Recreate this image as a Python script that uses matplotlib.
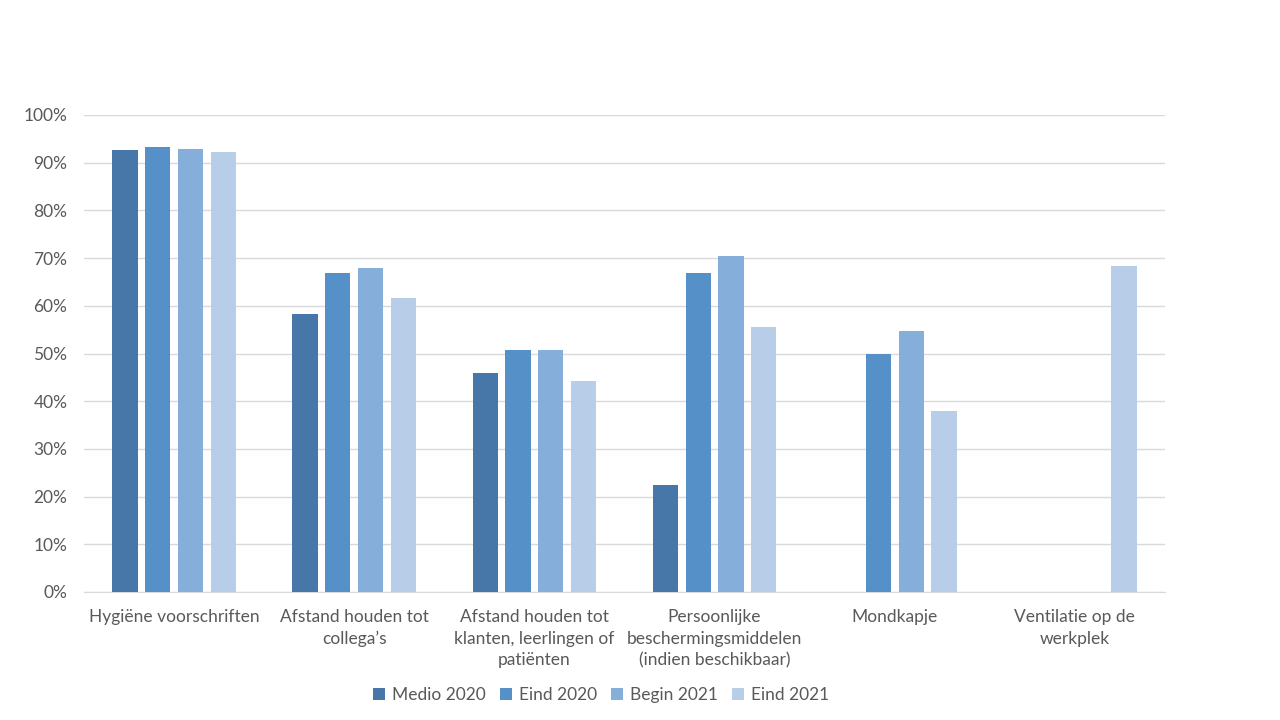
import numpy as np
import matplotlib.pyplot as plt
from matplotlib.ticker import PercentFormatter

plt.rcParams['font.family'] = ['Lato', 'DejaVu Sans']

categories = ['Hygiëne voorschriften', 'Afstand houden tot\ncollega’s',
              'Afstand houden tot\nklanten, leerlingen of\npatiënten',
              'Persoonlijke\nbeschermingsmiddelen\n(indien beschikbaar)',
              'Mondkapje', 'Ventilatie op de\nwerkplek']
series = ['Medio 2020', 'Eind 2020', 'Begin 2021', 'Eind 2021']
medio_2020 = [92.7, 58.3, 45.9, 22.4, np.nan, np.nan]
eind_2020 = [93.3, 66.9, 50.7, 66.9, 49.9, np.nan]
begin_2021 = [92.9, 67.9, 50.7, 70.4, 54.7, np.nan]
eind_2021 = [92.2, 61.6, 44.2, 55.6, 37.9, 68.3]
colors = ['#4677a8', '#5590c8', '#85aedb', '#b8cde8']

values = [medio_2020, eind_2020, begin_2021, eind_2021]

fig = plt.figure(figsize=(12.8, 7.2), dpi=100)
ax = fig.add_axes([84/1280, 1-592/720, (1165-84)/1280, (592-115)/720])

x = np.arange(len(categories))
step = 0.182
width = 0.14
for i, (name, vals) in enumerate(zip(series, values)):
    ax.bar(x + (i - 1.5) * step, vals, width=width, color=colors[i], label=name, zorder=3)

ax.set_xlim(-0.5, len(categories) - 0.5)
ax.set_ylim(0, 100)
ax.set_yticks(np.arange(0, 101, 10))
ax.yaxis.set_major_formatter(PercentFormatter(decimals=0))
ax.set_xticks(x)
ax.set_xticklabels(categories, linespacing=1.45)
ax.grid(axis='y', color='#d9d9d9', linewidth=1, zorder=0)
for s in ['top', 'right', 'left']:
    ax.spines[s].set_visible(False)
ax.spines['bottom'].set_color('#d9d9d9')
ax.tick_params(axis='both', length=0, labelsize=12.5, colors='#595959')
ax.tick_params(axis='x', pad=12)
ax.tick_params(axis='y', pad=12)

fig.legend(loc='center', bbox_to_anchor=(601/1280, 1-695/720), ncol=4, frameon=False,
           fontsize=12.5, labelcolor='#595959', handlelength=0.7, handleheight=0.7,
           handletextpad=0.4, columnspacing=0.8)

fig.savefig('out.png')
